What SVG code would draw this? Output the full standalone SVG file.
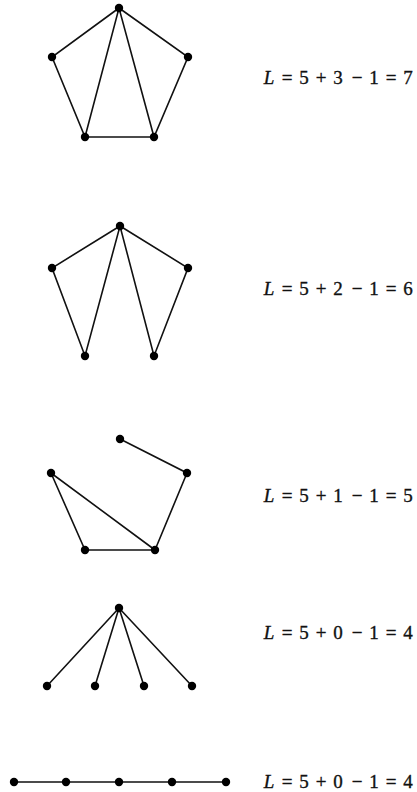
<svg xmlns="http://www.w3.org/2000/svg" width="417" height="792" viewBox="0 0 417 792">
<style>
.e{stroke:#111;stroke-width:1.6;fill:none;stroke-linecap:round}
.n{fill:#000}
.t{font-family:"Liberation Serif","DejaVu Serif",serif;font-size:19px;fill:#111;stroke:#111;stroke-width:0.35;text-anchor:middle}
.i{font-style:italic}
</style>
<rect width="417" height="792" fill="#fff"/>
<g id="connectors">
<path class="e" d="M119 8L52 57L85 137L119 8L154 137L188 57L119 8M85 137L154 137"/>
<path class="e" d="M120 226L52 268L85 356L120 226L154 356L188 268L120 226"/>
<path class="e" d="M120 439L187 473L155 550L85 550L51 473L155 550"/>
<path class="e" d="M47 686L119 608L95 686M119 608L144 686M119 608L192 686"/>
<path class="e" d="M14 782L226 782"/>
</g>
<g id="g1">
<circle class="n" cx="119" cy="8" r="4.2"/><circle class="n" cx="52" cy="57" r="4.2"/><circle class="n" cx="188" cy="57" r="4.2"/><circle class="n" cx="85" cy="137" r="4.2"/><circle class="n" cx="154" cy="137" r="4.2"/>
</g>
<g id="g2">
<circle class="n" cx="120" cy="226" r="4.2"/><circle class="n" cx="52" cy="268" r="4.2"/><circle class="n" cx="188" cy="268" r="4.2"/><circle class="n" cx="85" cy="356" r="4.2"/><circle class="n" cx="154" cy="356" r="4.2"/>
</g>
<g id="g3">
<circle class="n" cx="120" cy="439" r="4.2"/><circle class="n" cx="51" cy="473" r="4.2"/><circle class="n" cx="187" cy="473" r="4.2"/><circle class="n" cx="85" cy="550" r="4.2"/><circle class="n" cx="155" cy="550" r="4.2"/>
</g>
<g id="g4">
<circle class="n" cx="119" cy="608" r="4.2"/><circle class="n" cx="47" cy="686" r="4.2"/><circle class="n" cx="95" cy="686" r="4.2"/><circle class="n" cx="144" cy="686" r="4.2"/><circle class="n" cx="192" cy="686" r="4.2"/>
</g>
<g id="g5">
<circle class="n" cx="14" cy="782" r="4.2"/><circle class="n" cx="66" cy="782" r="4.2"/><circle class="n" cx="119" cy="782" r="4.2"/><circle class="n" cx="172" cy="782" r="4.2"/><circle class="n" cx="226" cy="782" r="4.2"/>
</g>
<g id="labels">
<text class="t" y="84"><tspan class="i" x="269">L</tspan><tspan x="287">=</tspan><tspan x="304">5</tspan><tspan x="321">+</tspan><tspan x="338">3</tspan><tspan x="357">−</tspan><tspan x="374">1</tspan><tspan x="391">=</tspan><tspan x="408">7</tspan></text>
<text class="t" y="295"><tspan class="i" x="269">L</tspan><tspan x="287">=</tspan><tspan x="304">5</tspan><tspan x="321">+</tspan><tspan x="338">2</tspan><tspan x="357">−</tspan><tspan x="374">1</tspan><tspan x="391">=</tspan><tspan x="408">6</tspan></text>
<text class="t" y="502"><tspan class="i" x="269">L</tspan><tspan x="287">=</tspan><tspan x="304">5</tspan><tspan x="321">+</tspan><tspan x="338">1</tspan><tspan x="357">−</tspan><tspan x="374">1</tspan><tspan x="391">=</tspan><tspan x="408">5</tspan></text>
<text class="t" y="639"><tspan class="i" x="269">L</tspan><tspan x="287">=</tspan><tspan x="304">5</tspan><tspan x="321">+</tspan><tspan x="338">0</tspan><tspan x="357">−</tspan><tspan x="374">1</tspan><tspan x="391">=</tspan><tspan x="408">4</tspan></text>
<text class="t" y="788"><tspan class="i" x="269">L</tspan><tspan x="287">=</tspan><tspan x="304">5</tspan><tspan x="321">+</tspan><tspan x="338">0</tspan><tspan x="357">−</tspan><tspan x="374">1</tspan><tspan x="391">=</tspan><tspan x="408">4</tspan></text>
</g>
</svg>
